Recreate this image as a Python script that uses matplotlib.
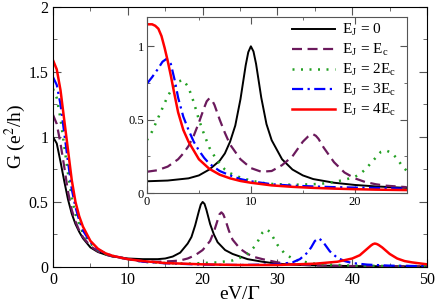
import matplotlib
matplotlib.use('Agg')
import matplotlib.pyplot as plt
from matplotlib.ticker import MultipleLocator

plt.rcParams['font.family'] = ['Liberation Serif', 'DejaVu Serif']
plt.rcParams['mathtext.fontset'] = 'stix'

labels = [r'E$_\mathregular{J}$ = 0', r'E$_\mathregular{J}$ = E$_\mathregular{c}$',
          r'E$_\mathregular{J}$ = 2E$_\mathregular{c}$', r'E$_\mathregular{J}$ = 3E$_\mathregular{c}$',
          r'E$_\mathregular{J}$ = 4E$_\mathregular{c}$']

# main panel: G vs eV/Gamma
x0 = [0, 0.5, 1, 1.5, 2, 2.5, 3, 3.5, 4, 5, 6, 7, 8, 10, 12, 14, 15, 16, 17, 18, 18.5, 19, 19.5,
      19.75, 20, 20.25, 20.5, 21, 21.5, 22, 23, 24, 25, 26, 28, 30, 33, 36, 40, 45, 50]
g0 = [1.0, 0.95, 0.81, 0.66, 0.52, 0.41, 0.33, 0.27, 0.22, 0.15, 0.115, 0.095, 0.08, 0.065, 0.06,
      0.06, 0.065, 0.08, 0.11, 0.18, 0.23, 0.32, 0.43, 0.48, 0.5, 0.485, 0.44, 0.33, 0.25, 0.19,
      0.13, 0.1, 0.08, 0.06, 0.04, 0.025, 0.015, 0.01, 0.007, 0.005, 0.004]
x1 = [0, 0.5, 1, 1.5, 2, 2.5, 3, 3.5, 4, 5, 6, 7, 8, 10, 12, 14, 16, 17, 18, 19, 20, 21, 21.5,
      22, 22.25, 22.5, 22.75, 23, 23.5, 24, 25, 26, 27, 28, 30, 32, 35, 40, 45, 50]
g1 = [1.17, 1.1, 0.95, 0.77, 0.58, 0.44, 0.35, 0.28, 0.23, 0.16, 0.12, 0.095, 0.08, 0.06, 0.045,
      0.04, 0.045, 0.05, 0.065, 0.09, 0.13, 0.2, 0.27, 0.36, 0.405, 0.42, 0.405, 0.37, 0.28, 0.21,
      0.14, 0.1, 0.075, 0.06, 0.035, 0.02, 0.012, 0.007, 0.005, 0.004]
x2 = [0, 0.5, 1, 1.5, 2, 2.5, 3, 3.5, 4, 5, 6, 7, 8, 10, 12, 15, 18, 20, 22, 24, 25, 26, 27,
      27.5, 28, 28.5, 29, 29.5, 30, 31, 32, 33, 35, 38, 40, 45, 50]
g2 = [1.37, 1.3, 1.14, 0.93, 0.72, 0.53, 0.41, 0.33, 0.26, 0.18, 0.13, 0.1, 0.085, 0.06, 0.04,
      0.03, 0.025, 0.03, 0.035, 0.05, 0.07, 0.1, 0.16, 0.21, 0.265, 0.29, 0.27, 0.22, 0.17, 0.1,
      0.065, 0.045, 0.025, 0.015, 0.01, 0.007, 0.005]
x3 = [0, 0.5, 1, 1.5, 2, 2.5, 3, 3.5, 4, 5, 6, 7, 8, 10, 12, 15, 20, 25, 30, 32, 33, 34, 34.5,
      35, 35.5, 36, 36.5, 37, 38, 39, 40, 42, 45, 50]
g3 = [1.46, 1.4, 1.25, 1.03, 0.81, 0.6, 0.46, 0.36, 0.28, 0.19, 0.135, 0.105, 0.085, 0.06, 0.04,
      0.028, 0.018, 0.015, 0.02, 0.035, 0.06, 0.11, 0.15, 0.2, 0.22, 0.2, 0.16, 0.12, 0.07, 0.045,
      0.03, 0.018, 0.01, 0.006]
x4 = [0, 0.5, 1, 1.5, 2, 2.5, 3, 3.5, 4, 5, 6, 7, 8, 10, 12, 15, 20, 25, 30, 35, 38, 40, 41, 42,
      42.5, 42.75, 43, 43.25, 43.5, 44, 45, 46, 47, 48, 50]
g4 = [1.59, 1.52, 1.36, 1.13, 0.9, 0.67, 0.5, 0.39, 0.31, 0.2, 0.14, 0.105, 0.085, 0.06, 0.045,
      0.03, 0.02, 0.015, 0.015, 0.025, 0.04, 0.065, 0.09, 0.14, 0.165, 0.175, 0.18, 0.177, 0.17,
      0.15, 0.1, 0.065, 0.045, 0.035, 0.02]

# inset
xi0 = [0, 2, 4, 5, 6, 7, 7.5, 8, 8.5, 9, 9.5, 9.75, 10, 10.25, 10.5, 11, 11.5, 12, 13, 14, 15, 16,
       18, 20, 22, 25]
gi0 = [0.08, 0.085, 0.1, 0.12, 0.16, 0.22, 0.27, 0.35, 0.46, 0.64, 0.87, 0.96, 1.0, 0.965, 0.88,
       0.65, 0.47, 0.36, 0.23, 0.16, 0.12, 0.095, 0.07, 0.055, 0.045, 0.035]
xi1 = [0, 1, 2, 3, 3.5, 4, 4.5, 5, 5.5, 5.75, 6, 6.25, 6.5, 7, 7.5, 8, 9, 10, 11, 12, 13, 14,
       14.5, 15, 15.5, 15.75, 16, 16.25, 16.5, 17, 17.5, 18, 19, 20, 21, 22, 23, 25]
gi1 = [0.145, 0.155, 0.18, 0.23, 0.27, 0.32, 0.39, 0.48, 0.58, 0.625, 0.645, 0.635, 0.6, 0.5,
       0.41, 0.33, 0.23, 0.17, 0.145, 0.15, 0.19, 0.25, 0.3, 0.35, 0.385, 0.397, 0.4, 0.39, 0.37,
       0.31, 0.26, 0.21, 0.14, 0.1, 0.075, 0.06, 0.05, 0.04]
xi2 = [0, 0.5, 1, 1.5, 2, 2.5, 3, 3.5, 4, 4.5, 5, 5.5, 6, 6.5, 7, 7.5, 8, 9, 10, 11, 12, 14, 16,
       17, 18, 19, 20, 20.5, 21, 21.5, 22, 22.5, 23, 23.5, 24, 24.5, 25]
gi2 = [0.36, 0.42, 0.5, 0.58, 0.66, 0.72, 0.76, 0.77, 0.72, 0.62, 0.5, 0.4, 0.31, 0.25, 0.2, 0.16,
       0.135, 0.105, 0.085, 0.07, 0.062, 0.056, 0.06, 0.065, 0.075, 0.09, 0.11, 0.13, 0.16, 0.2,
       0.24, 0.28, 0.29, 0.275, 0.24, 0.19, 0.15]
xi3 = [0, 0.5, 1, 1.5, 1.9, 2.3, 2.7, 3, 3.5, 4, 4.5, 5, 5.5, 6, 7, 8, 9, 10, 12, 14, 16, 18, 20,
       22, 25]
gi3 = [0.745, 0.79, 0.84, 0.895, 0.915, 0.88, 0.76, 0.65, 0.52, 0.43, 0.35, 0.29, 0.24, 0.2, 0.15,
       0.12, 0.095, 0.08, 0.06, 0.05, 0.045, 0.04, 0.037, 0.035, 0.03]
xi4 = [0, 0.5, 0.8, 1.1, 1.4, 1.7, 2, 2.3, 2.6, 3, 3.5, 4, 4.5, 5, 6, 7, 8, 9, 10, 12, 14, 16, 18,
       20, 22, 25]
gi4 = [1.15, 1.15, 1.14, 1.12, 1.07, 0.99, 0.9, 0.8, 0.69, 0.55, 0.43, 0.35, 0.29, 0.23, 0.165,
       0.125, 0.1, 0.082, 0.07, 0.052, 0.042, 0.035, 0.03, 0.026, 0.023, 0.02]

colors = ['black', '#6b1a5c', '#23a023', '#0000ff', '#ff0000']
styles = ['-', (0, (4.5, 2.5)), (0, (0.8, 2.6)), (0, (5, 2, 1, 2)), '-']
widths = [1.4, 1.6, 1.8, 1.6, 1.8]

fig = plt.figure(figsize=(4.36, 3.03), dpi=100)
ax = fig.add_axes([0.1216, 0.119, 0.858, 0.858])
main = [(x0, g0), (x1, g1), (x2, g2), (x3, g3), (x4, g4)]
for (xx, gg), c, ls, lw in zip(main, colors, styles, widths):
    ax.plot(xx, gg, color=c, linestyle=ls, linewidth=lw)
ax.set_xlim(0, 50)
ax.set_ylim(0, 2)
ax.xaxis.set_major_locator(MultipleLocator(10))
ax.xaxis.set_minor_locator(MultipleLocator(5))
ax.yaxis.set_minor_locator(MultipleLocator(0.25))
ax.set_yticks([0, 0.5, 1, 1.5, 2])
ax.set_yticklabels(['0', '0.5', '1', '1.5', '2'])
ax.tick_params(which='both', direction='in', top=True, right=True, labelsize=11.5, color='#555555')
ax.tick_params(which='major', length=6)
ax.tick_params(which='minor', length=3)
ax.set_xlabel(r'eV/$\Gamma$', fontsize=14, labelpad=-1)
ax.set_ylabel(r'G (e$^2$/h)', fontsize=14)
ax.yaxis.set_label_coords(-0.068, 0.5)

ins = fig.add_axes([0.337, 0.363, 0.596, 0.581])
inset = [(xi0, gi0), (xi1, gi1), (xi2, gi2), (xi3, gi3), (xi4, gi4)]
for (xx, gg), c, ls, lw, lab in zip(inset, colors, styles, widths, labels):
    ins.plot(xx, gg, color=c, linestyle=ls, linewidth=lw, label=lab)
ins.set_xlim(0, 25)
ins.set_ylim(0, 1.2)
ins.xaxis.set_major_locator(MultipleLocator(10))
ins.xaxis.set_minor_locator(MultipleLocator(5))
ins.set_yticks([0, 0.5, 1])
ins.set_yticklabels(['0', '0.5', '1'])
ins.yaxis.set_minor_locator(MultipleLocator(0.25))
ins.tick_params(which='both', direction='in', top=True, right=True, labelsize=9, color='#555555', pad=2)
ins.tick_params(which='major', length=5)
ins.tick_params(which='minor', length=2.5)
for s in ins.spines.values():
    s.set_color('#555555')
ins.legend(loc='upper right', bbox_to_anchor=(0.96, 0.97), frameon=False, fontsize=11,
           handlelength=2.8, labelspacing=0.25, borderpad=0, borderaxespad=0, handletextpad=0.5)

fig.savefig('out.png', dpi=100)
